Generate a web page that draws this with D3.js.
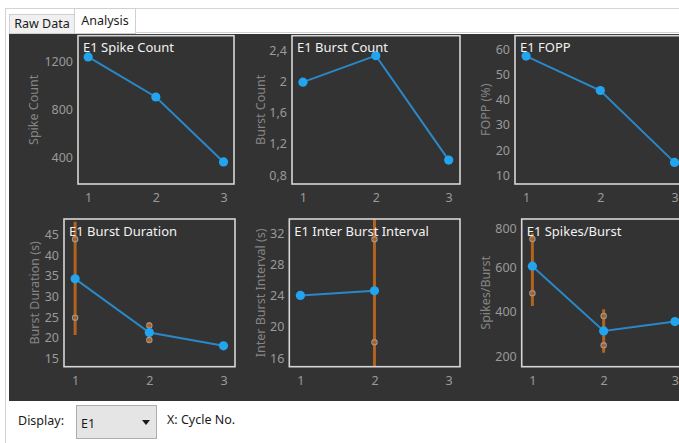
<!DOCTYPE html>
<html><head><meta charset="utf-8">
<script src="https://cdn.jsdelivr.net/npm/d3@7"></script>
<style>
html,body{margin:0;padding:0;background:#fff;overflow:hidden}
svg{display:block;font-family:"Noto Sans","Open Sans",sans-serif}
</style></head>
<body>
<svg id="c" width="679" height="443"></svg>
<script>
// ---------- data ----------
const cycles = [1, 2, 3];
const spikeCount = [1242, 908, 367];
const burstCount = [2.0, 2.34, 1.0];
const fopp = [57.6, 43.9, 15.3];
const burstDuration = [34.4, 21.4, 18.2];
const burstDurationPts = [[44.0, 25.0], [23.1, 19.6], []];
const burstDurationLow = [20.8, 18.9, null];
const burstDurationHigh = [48.2, 23.9, null];
const interBurst = [24.1, 24.7, null];
const interBurstPts = [[], [31.3, 18.1], []];
const interBurstLow = [null, 13.0, null];
const interBurstHigh = [null, 36.0, null];
const spikesPerBurst = [607, 316, 358];
const spikesPerBurstPts = [[729, 485], [383, 251], []];
const spikesPerBurstLow = [428, 218, null];
const spikesPerBurstHigh = [755, 413, null];

const ticks1 = [400, 800, 1200];
const ticks2 = [0.8, 1.2, 1.6, 2.0, 2.4];
const ticks3 = [10, 20, 30, 40, 50, 60];
const ticks4 = [15, 20, 25, 30, 35, 40, 45];
const ticks5 = [16, 20, 24, 28, 32];
const ticks6 = [200, 400, 600, 800];
const xTicks = [1, 2, 3];

// ---------- layout ----------
const svg = d3.select("#c");

// window chrome
svg.append("rect").attr("x",0).attr("y",0).attr("width",679).attr("height",443).attr("fill","#ffffff");
svg.append("line").attr("x1",5.5).attr("x2",5.5).attr("y1",8).attr("y2",443).attr("stroke","#d4d4d4");
svg.append("line").attr("x1",5).attr("x2",679).attr("y1",8.5).attr("y2",8.5).attr("stroke","#d4d4d4");
// tabs
svg.append("rect").attr("x",9.5).attr("y",14.5).attr("width",65).attr("height",19).attr("fill","#f0f0f0").attr("stroke","#d0d0d0");
svg.append("text").attr("x",42).attr("y",28).attr("text-anchor","middle").attr("font-size",12.5).attr("fill","#1a1a1a").text("Raw Data");
svg.append("line").attr("x1",136).attr("x2",679).attr("y1",32.5).attr("y2",32.5).attr("stroke","#d0d0d0");
svg.append("rect").attr("x",74.5).attr("y",8.5).attr("width",61).attr("height",25).attr("fill","#ffffff").attr("stroke","#d0d0d0");
svg.append("text").attr("x",105).attr("y",25).attr("text-anchor","middle").attr("font-size",12.5).attr("fill","#1a1a1a").text("Analysis");

// dark panel
svg.append("rect").attr("x",9).attr("y",34).attr("width",670).attr("height",367).attr("fill","#333333");

// bottom controls
svg.append("text").attr("x",18).attr("y",425).attr("font-size",12.5).attr("fill","#1a1a1a").text("Display:");
svg.append("rect").attr("x",76.5).attr("y",405.5).attr("width",80).attr("height",33).attr("fill","#e5e5e5").attr("stroke","#adadad");
svg.append("text").attr("x",81).attr("y",428).attr("font-size",12.5).attr("fill","#1a1a1a").text("E1");
svg.append("path").attr("d","M142,420 L150,420 L146,425 Z").attr("fill","#1a1a1a");
svg.append("text").attr("x",167).attr("y",424).attr("font-size",12.5).attr("fill","#1a1a1a").text("X: Cycle No.");

const panels = [
  {title:"E1 Spike Count", ylab:"Spike Count", vals:spikeCount, ticks:ticks1, fmt:d=>String(d),
   box:[78,35.7,234,184], ydom:[183,1419], labX:33},
  {title:"E1 Burst Count", ylab:"Burst Count", vals:burstCount, ticks:ticks2, fmt:d=>String(d).replace(".",","),
   box:[292,35.7,460,184], ydom:[0.693,2.596], labX:260},
  {title:"E1 FOPP", ylab:"FOPP (%)", vals:fopp, ticks:ticks3, fmt:d=>String(d),
   box:[515,35.7,686,184], ydom:[6.7,65.7], labX:485},
  {title:"E1 Burst Duration", ylab:"Burst Duration (s)", vals:burstDuration, ticks:ticks4, fmt:d=>String(d),
   pts:burstDurationPts, lo:burstDurationLow, hi:burstDurationHigh,
   box:[64,219,235,366.7], ydom:[13.14,48.87], labX:34},
  {title:"E1 Inter Burst Interval", ylab:"Inter Burst Interval (s)", vals:interBurst, ticks:ticks5, fmt:d=>String(d),
   pts:interBurstPts, lo:interBurstLow, hi:interBurstHigh,
   box:[289.3,219,460,366.7], ydom:[14.98,33.88], labX:260},
  {title:"E1 Spikes/Burst", ylab:"Spikes/Burst", vals:spikesPerBurst, ticks:ticks6, fmt:d=>String(d),
   pts:spikesPerBurstPts, lo:spikesPerBurstLow, hi:spikesPerBurstHigh,
   box:[521.7,219,686,366.7], ydom:[155,819], labX:485}
];

panels.forEach((p,i)=>{
  const [x0,y0,x1,y1] = p.box;
  const x = d3.scaleLinear().domain([0.85,3.155]).range([x0,x1]);
  const y = d3.scaleLinear().domain(p.ydom).range([y1,y0]);
  const g = svg.append("g");
  const cid = "clip"+i;
  svg.append("clipPath").attr("id",cid).append("rect").attr("x",x0).attr("y",y0).attr("width",x1-x0).attr("height",y1-y0);

  // y axis (labels only)
  const ya = d3.axisLeft(y).tickValues(p.ticks).tickFormat(p.fmt).tickSize(0).tickPadding(5);
  const yg = g.append("g").attr("transform",`translate(${x0},0)`).call(ya);
  yg.select(".domain").remove();
  yg.selectAll("text").attr("font-size",12.5).attr("fill","#9a9a9a").attr("font-family","Noto Sans");
  // keep labels inside the plot's vertical extent (as the original control does)
  yg.selectAll(".tick").attr("transform", d => `translate(0,${Math.max(y(d), y0 + 10)})`);

  // x axis
  const xa = d3.axisBottom(x).tickValues(xTicks).tickFormat(d3.format("d")).tickSize(0).tickPadding(9);
  const xg = g.append("g").attr("transform",`translate(0,${y1})`).call(xa);
  xg.select(".domain").remove();
  xg.selectAll("text").attr("font-size",12.5).attr("fill","#9a9a9a").attr("font-family","Noto Sans");

  // y label
  g.append("text").attr("transform",`translate(${p.labX},${(y0+y1)/2}) rotate(-90)`)
    .attr("text-anchor","middle").attr("dominant-baseline","central")
    .attr("font-size",12.5).attr("fill","#858585").text(p.ylab);

  const inner = g.append("g").attr("clip-path",`url(#${cid})`);

  // error bars
  if (p.lo) {
    cycles.forEach((c,k)=>{
      if (p.lo[k]==null) return;
      inner.append("line").attr("x1",x(c)).attr("x2",x(c)).attr("y1",y(p.lo[k])).attr("y2",y(p.hi[k]))
        .attr("stroke","#b4631f").attr("stroke-width",3);
    });
  }
  // line
  const data = cycles.map((c,k)=>({c, v:p.vals[k]})).filter(d=>d.v!=null);
  inner.append("path").datum(data)
    .attr("d", d3.line().x(d=>x(d.c)).y(d=>y(d.v)))
    .attr("fill","none").attr("stroke","#2a88c9").attr("stroke-width",2);
  // individual points
  if (p.pts) {
    cycles.forEach((c,k)=>{
      p.pts[k].forEach(v=>{
        inner.append("circle").attr("cx",x(c)).attr("cy",y(v)).attr("r",2.6)
          .attr("fill","none").attr("stroke","#a3948a").attr("stroke-width",1.3);
      });
    });
  }
  // markers
  inner.selectAll("circle.m").data(data).enter().append("circle").attr("class","m")
    .attr("cx",d=>x(d.c)).attr("cy",d=>y(d.v)).attr("r",4.6).attr("fill","#22a4ef");

  // box
  g.append("rect").attr("x",x0).attr("y",y0).attr("width",x1-x0).attr("height",y1-y0)
    .attr("fill","none").attr("stroke","#d6d6d6").attr("stroke-width",1.6);
  // title
  g.append("text").attr("x",x0+5).attr("y",y0+16.5).attr("font-size",13).attr("fill","#f2f2f2").text(p.title);
});
</script>
</body></html>
